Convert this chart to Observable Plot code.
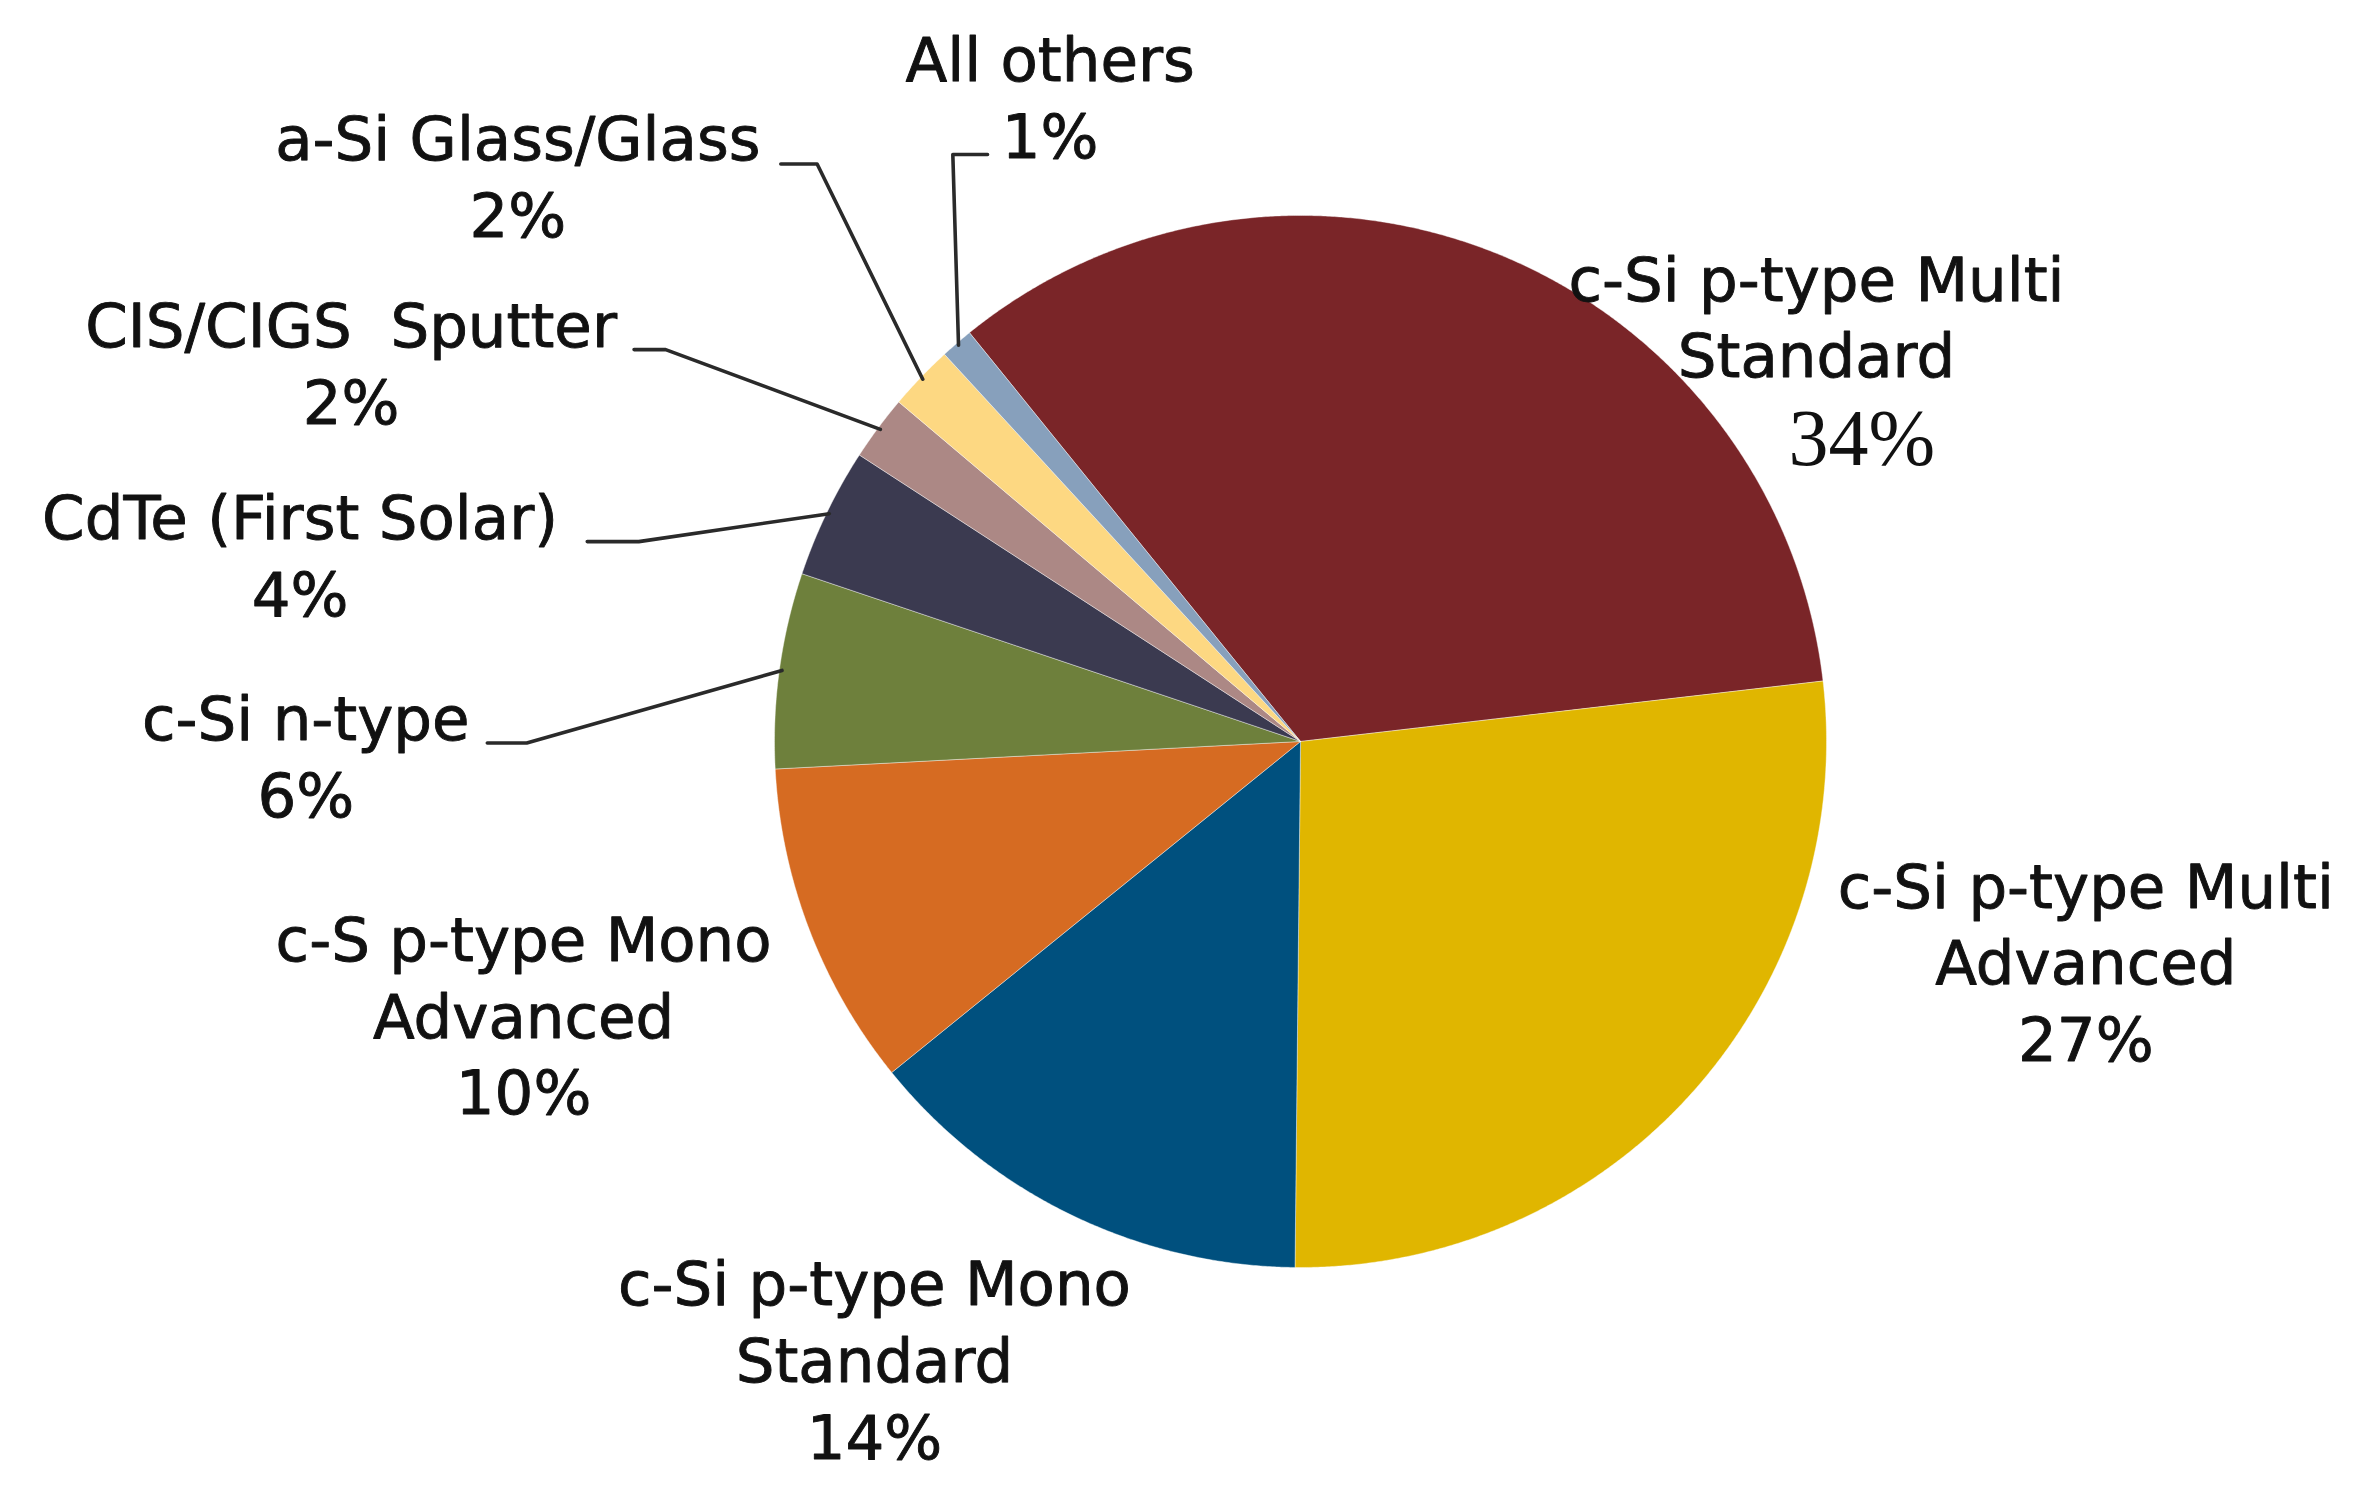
<!DOCTYPE html>
<html><head><meta charset="utf-8">
<script src="https://cdn.jsdelivr.net/npm/d3@7"></script>
<script src="https://cdn.jsdelivr.net/npm/@observablehq/plot@0.6"></script>
<style>html,body{margin:0;padding:0;background:#fff;} #chart{width:2371px;height:1502px;}</style>
</head><body><div id="chart"></div>
<script>
// ---- data ----
const categories = ["c-Si p-type Multi Standard","c-Si p-type Multi Advanced","c-Si p-type Mono Standard","c-S p-type Mono Advanced","c-Si n-type","CdTe (First Solar)","CIS/CIGS  Sputter","a-Si Glass/Glass","All others"];
const shares = [34,27,14,10,6,4,2,2,1];
const labelLines = [["c-Si p-type Multi","Standard"],["c-Si p-type Multi","Advanced"],["c-Si p-type Mono","Standard"],["c-S p-type Mono","Advanced"],["c-Si n-type"],["CdTe (First Solar)"],["CIS/CIGS  Sputter"],["a-Si Glass/Glass"],["All others"]];
const palette = ["#7a2528","#e0b600","#00507e","#d66b22","#6e803c","#3b3a50","#ac8885","#fdd882","#87a0bc"];

// ---- layout (in pie-radius units, centre = 0,0, y up) ----
const startDeg = 321;
const labelPos = [[0.981,0.812],[1.493,-0.415],[-0.810,-1.171],[-1.477,-0.516],[-1.891,-0.023],[-1.902,0.358],[-1.805,0.723],[-1.488,1.079],[-0.476,1.229]];
const separatePct = [1.067,0.574]; // serif percent for first slice
const leaderStart = {4:[-1.546,-0.003],5:[-1.356,0.380],6:[-1.267,0.745],7:[-0.988,1.098],8:[-0.595,1.116]};
const leaderElbow = {4:[-1.471,-0.003],5:[-1.258,0.380],6:[-1.207,0.745],7:[-0.919,1.098],8:[-0.661,1.116]};

const arcs = d3.pie().sort(null).startAngle(startDeg*Math.PI/180).endAngle(startDeg*Math.PI/180+2*Math.PI)(shares);

const slicePts = [];
arcs.forEach((a,i)=>{
  const name = categories[i];
  slicePts.push({name,x:0,y:0});
  const n = Math.max(2, Math.ceil((a.endAngle-a.startAngle)/(Math.PI/720)));
  for(let k=0;k<=n;k++){
    const t = a.startAngle + (a.endAngle-a.startAngle)*k/n;
    slicePts.push({name,x:Math.sin(t),y:Math.cos(t)});
  }
  slicePts.push({name,x:0,y:0});
});

const leaderPts = [];
Object.keys(leaderStart).forEach(k=>{
  const i = +k, a = arcs[i], m = (a.startAngle+a.endAngle)/2;
  leaderPts.push({id:i,x:leaderStart[i][0],y:leaderStart[i][1]});
  leaderPts.push({id:i,x:leaderElbow[i][0],y:leaderElbow[i][1]});
  leaderPts.push({id:i,x:Math.sin(m)*0.995,y:Math.cos(m)*0.995});
});

const labels = categories.map((c,i)=>({
  x:labelPos[i][0], y:labelPos[i][1],
  text: i===0 ? labelLines[i].join("\n") : labelLines[i].concat([shares[i]+"%"]).join("\n")
}));

const chart = Plot.plot({
  width:2371, height:1502, margin:0,
  x:{domain:[-2.4715,2.0361], axis:null},
  y:{domain:[-1.4468,1.4087], axis:null},
  color:{domain:categories, range:palette},
  style:{background:"#ffffff"},
  marks:[
    Plot.line(slicePts,{x:"x",y:"y",z:"name",fill:"name",stroke:"#ffffff",strokeWidth:0.8,strokeOpacity:0.5}),
    Plot.line(leaderPts,{x:"x",y:"y",z:"id",stroke:"#2a2a2a",strokeWidth:3.6}),
    Plot.text(labels,{x:"x",y:"y",text:"text",fontFamily:"DejaVu Sans",fontSize:61,lineHeight:1.26,lineAnchor:"middle",textAnchor:"middle",fill:"#111111",stroke:"#111111",strokeWidth:0.9}),
    Plot.text([{x:separatePct[0],y:separatePct[1],t:shares[0]+"%"}],{x:"x",y:"y",text:"t",fontFamily:"Liberation Serif",fontSize:80,textAnchor:"middle",lineAnchor:"middle",fill:"#111111"})
  ]
});
document.getElementById("chart").appendChild(chart);
</script>
</body></html>
